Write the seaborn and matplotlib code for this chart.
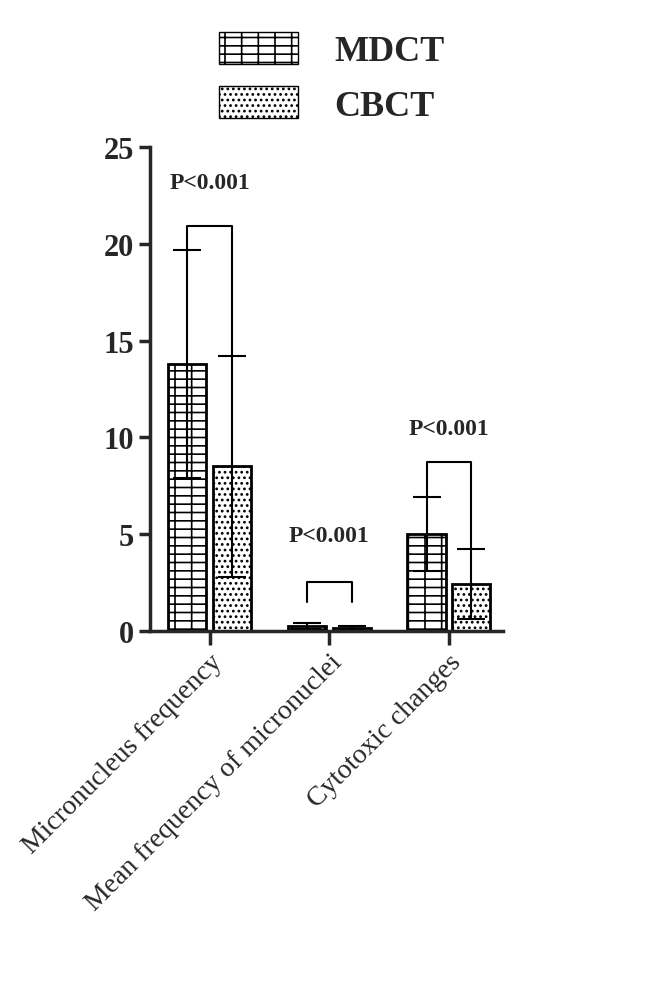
import matplotlib
matplotlib.use("Agg")
import matplotlib.pyplot as plt
import seaborn as sns
import pandas as pd
import numpy as np
from matplotlib.patches import Patch

categories = ["Micronucleus frequency", "Mean frequency of micronuclei", "Cytotoxic changes"]
groups = ["MDCT", "CBCT"]
mdct_mean = [13.8, 0.25, 5.0]
mdct_sd = [5.9, 0.15, 1.9]
cbct_mean = [8.5, 0.12, 2.4]
cbct_sd = [5.7, 0.10, 1.8]
pvals = ["P<0.001", "P<0.001", "P<0.001"]

sns.set_style("ticks")
plt.rcParams['font.family'] = ['Liberation Serif', 'DejaVu Serif']
plt.rcParams['hatch.linewidth'] = 1.2

df = pd.DataFrame({
    "cat": categories * 2,
    "grp": ["MDCT"] * 3 + ["CBCT"] * 3,
    "val": mdct_mean + cbct_mean,
})

fig = plt.figure(figsize=(6.66, 9.87), dpi=100)
ax = fig.add_axes([0.225, 0.36, 0.53, 0.49])
sns.barplot(data=df, x="cat", y="val", hue="grp", hue_order=groups, order=categories,
            palette=["white", "white"], edgecolor="black", linewidth=2, width=0.75,
            gap=0.15, ax=ax, legend=False)
bar_containers = list(ax.containers)[:2]
bx = [[b.get_x() + b.get_width() / 2 for b in c] for c in bar_containers]
for i, cont in enumerate(bar_containers):
    sds = mdct_sd if i == 0 else cbct_sd
    means = mdct_mean if i == 0 else cbct_mean
    for j, bar in enumerate(cont):
        bar.set_hatch("-+" if i == 0 else "...")
        ax.errorbar(bx[i][j], means[j], yerr=sds[j], color="black", capsize=10, capthick=1.5,
                    elinewidth=1.5, fmt="none")

ax.set_ylim(0, 25)
ax.set_yticks([0, 5, 10, 15, 20, 25])
ax.tick_params(axis="y", labelsize=22, width=2.5, length=8)
ax.tick_params(axis="x", labelsize=20, width=2.5, length=10)
for lab in ax.get_yticklabels():
    lab.set_fontweight("bold")
ax.set_xticks(range(3))
ax.set_xticklabels(categories, rotation=45, ha="right", rotation_mode="anchor")
ax.set_xlabel("")
ax.set_ylabel("")
ax.set_xlim(-0.5, 2.45)
for s in ["top", "right"]:
    ax.spines[s].set_visible(False)
for s in ["left", "bottom"]:
    ax.spines[s].set_linewidth(2.5)

br = [(20.9, 19.6, 14.2, 22.6), (2.5, 1.5, 1.5, 4.4), (8.7, 6.9, 4.2, 9.9)]
for j in range(3):
    top, l, r, ty = br[j]
    x1, x2 = bx[0][j], bx[1][j]
    ax.plot([x1, x1, x2, x2], [l, top, top, r], color="black", lw=1.5, clip_on=False)
    ax.text((x1 + x2) / 2, ty, pvals[j], ha="center", va="bottom", fontsize=17,
            fontweight="bold", clip_on=False)

handles = [Patch(facecolor="white", edgecolor="black", hatch="-+", label="MDCT"),
           Patch(facecolor="white", edgecolor="black", hatch="...", label="CBCT")]
fig.legend(handles=handles, loc="upper left", bbox_to_anchor=(0.28, 1.0), frameon=False,
           prop={"size": 26, "weight": "bold"}, handlelength=2.2, handleheight=1.0,
           labelspacing=0.5, handletextpad=1.0)

fig.savefig("out.png", dpi=100)
